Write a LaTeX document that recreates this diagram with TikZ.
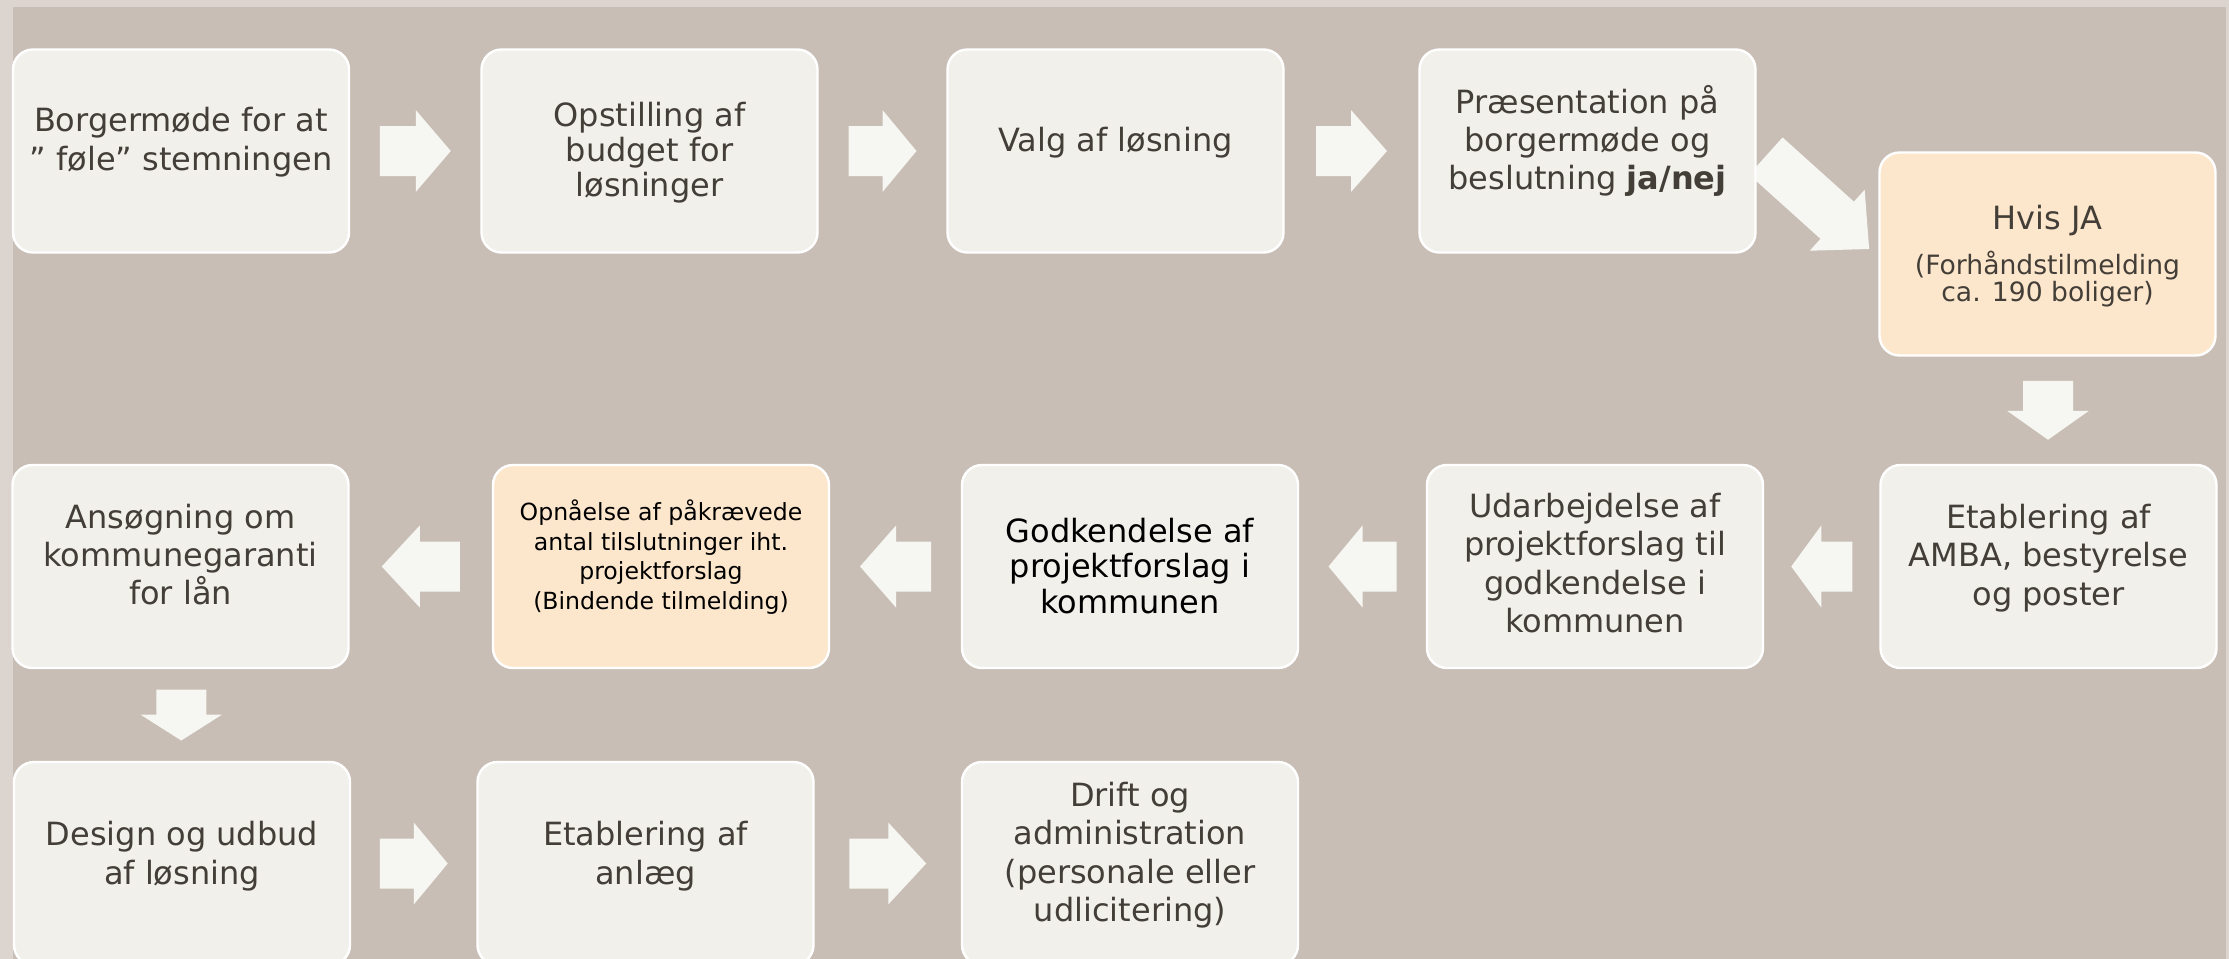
\documentclass[tikz,border=0pt]{standalone}
\usepackage{fontspec}
\setmainfont{DejaVu Sans}
\usetikzlibrary{calc}

\definecolor{bgouter}{HTML}{DCD4CF}
\definecolor{bgmain}{HTML}{C9BEB5}
\definecolor{boxfill}{HTML}{F1F0EB}
\definecolor{peach}{HTML}{FDE7CC}
\definecolor{arrowfill}{HTML}{F6F6F2}
\definecolor{txtgrey}{HTML}{433E37}

\pgfdeclarelayer{bglayer}
\pgfdeclarelayer{arrowlayer}
\pgfsetlayers{bglayer,arrowlayer,main}

\tikzset{
  stepbox/.style={draw=white, line width=1.2pt, fill=boxfill, rounded corners=10pt,
    minimum width=168pt, minimum height=101.5pt, inner sep=0pt},
  hotbox/.style={stepbox, fill=peach},
  steptext/.style={align=center, text=txtgrey, inner sep=0pt,
    font=\fontsize{16pt}{19.2pt}\selectfont},
  pics/blockarrow/.style 2 args={code={
    \fill[arrowfill] ({-#1/2},-25) -- ({#1/2-#2},-25) -- ({#1/2-#2},-41) -- ({#1/2},0)
      -- ({#1/2-#2},41) -- ({#1/2-#2},25) -- ({-#1/2},25) -- cycle;
  }}
}

\begin{document}
\begin{tikzpicture}[x=0.5pt,y=-0.5pt]
        \useasboundingbox (0,0) rectangle (2229,959);

        %Background
        \begin{pgfonlayer}{bglayer}
        \fill[bgouter] (0,0) rectangle (2229,959);
        \fill[bgmain] (13,7) rectangle (2226,959);
        \end{pgfonlayer}

        %Shape: Rounded Rect, first row
        \node[stepbox] (s1) at (181,151) {};
        \node[stepbox] (s2) at (649.5,151) {};
        \node[stepbox] (s3) at (1115.5,151) {};
        \node[stepbox] (s4) at (1587.5,151) {};
        \node[hotbox] (s5) at (2047.5,254) {};

        %Shape: Rounded Rect, second row
        \node[stepbox] (s6) at (2048.5,566.5) {};
        \node[stepbox] (s7) at (1595,566.5) {};
        \node[stepbox] (s8) at (1130,566.5) {};
        \node[hotbox] (s9) at (661,566.5) {};
        \node[stepbox] (s10) at (180.5,566.5) {};

        %Shape: Rounded Rect, third row
        \node[stepbox] (s11) at (182,863.5) {};
        \node[stepbox] (s12) at (645.5,863.5) {};
        \node[stepbox] (s13) at (1130,863.5) {};

        %Shape: Right Arrow, diagonal one goes under s4
        \begin{pgfonlayer}{arrowlayer}
        \pic[rotate=-42] at ($(s4.east)!0.5!(s5.west)$) {blockarrow={139}{43}};
        \end{pgfonlayer}

        %Shape: Right Arrow
        \pic at ($(s1.east)!0.5!(s2.west)$) {blockarrow={71}{35}};
        \pic at ($(s2.east)!0.5!(s3.west)$) {blockarrow={68}{34}};
        \pic at ($(s3.east)!0.5!(s4.west)$) {blockarrow={71}{36}};
        \pic[rotate=-90] at ($(s5.south)!0.5!(s6.north)$) {blockarrow={59}{29}};
        \pic[rotate=180] at ($(s6.west)!0.5!(s7.east)$) {blockarrow={61}{30}};
        \pic[rotate=180] at ($(s7.west)!0.5!(s8.east)$) {blockarrow={68}{34}};
        \pic[rotate=180] at ($(s8.west)!0.5!(s9.east)$) {blockarrow={71}{36}};
        \pic[rotate=180] at ($(s9.west)!0.5!(s10.east)$) {blockarrow={78}{38}};
        \pic[rotate=-90] at ($(s10.south)!0.5!(s11.north)$) {blockarrow={51}{26}};
        \pic at ($(s11.east)!0.5!(s12.west)$) {blockarrow={68}{34}};
        \pic at ($(s12.east)!0.5!(s13.west)$) {blockarrow={77}{38}};

        % Text Node
        \node[steptext, font=\fontsize{16pt}{19.5pt}\selectfont] (t1) at (181,142) {Borgermøde for at\\” føle” stemningen};
        % Text Node
        \node[steptext, font=\fontsize{16pt}{17.5pt}\selectfont] (t2) at (649.5,152.5) {Opstilling af\\budget for\\løsninger};
        % Text Node
        \node[steptext, anchor=base] (t3) at (1115.5,151) {Valg af løsning};
        % Text Node
        \node[steptext] (t4) at (1587.5,141) {Præsentation på\\borgermøde og\\beslutning \textbf{ja/nej}};
        % Text Node
        \node[steptext, anchor=base] (t5) at (2047.5,229) {Hvis JA};
        \node[steptext, font=\fontsize{13.3pt}{13.5pt}\selectfont] (t5b) at (2047.5,279.5) {(Forhåndstilmelding\\ca. 190 boliger)};
        % Text Node
        \node[steptext] (t6) at (2048.5,558) {Etablering af\\AMBA, bestyrelse\\og poster};
        % Text Node
        \node[steptext] (t7) at (1595,563) {Udarbejdelse af\\projektforslag til\\godkendelse i\\kommunen};
        % Text Node
        \node[steptext, text=black, font=\fontsize{16pt}{17.65pt}\selectfont] (t8) at (1130,566) {Godkendelse af\\projektforslag i\\kommunen};
        % Text Node
        \node[steptext, text=black, font=\fontsize{11.8pt}{14.7pt}\selectfont] (t9) at (661,557) {Opnåelse af påkrævede\\antal tilslutninger iht.\\projektforslag\\(Bindende tilmelding)};
        % Text Node
        \node[steptext] (t10) at (180.5,554.5) {Ansøgning om\\kommunegaranti\\for lån};
        % Text Node
        \node[steptext] (t11) at (182,856) {Design og udbud\\af løsning};
        % Text Node
        \node[steptext] (t12) at (645.5,856) {Etablering af\\anlæg};
        % Text Node
        \node[steptext] (t13) at (1130,855) {Drift og\\administration\\(personale eller\\udlicitering)};

\end{tikzpicture}
\end{document}
